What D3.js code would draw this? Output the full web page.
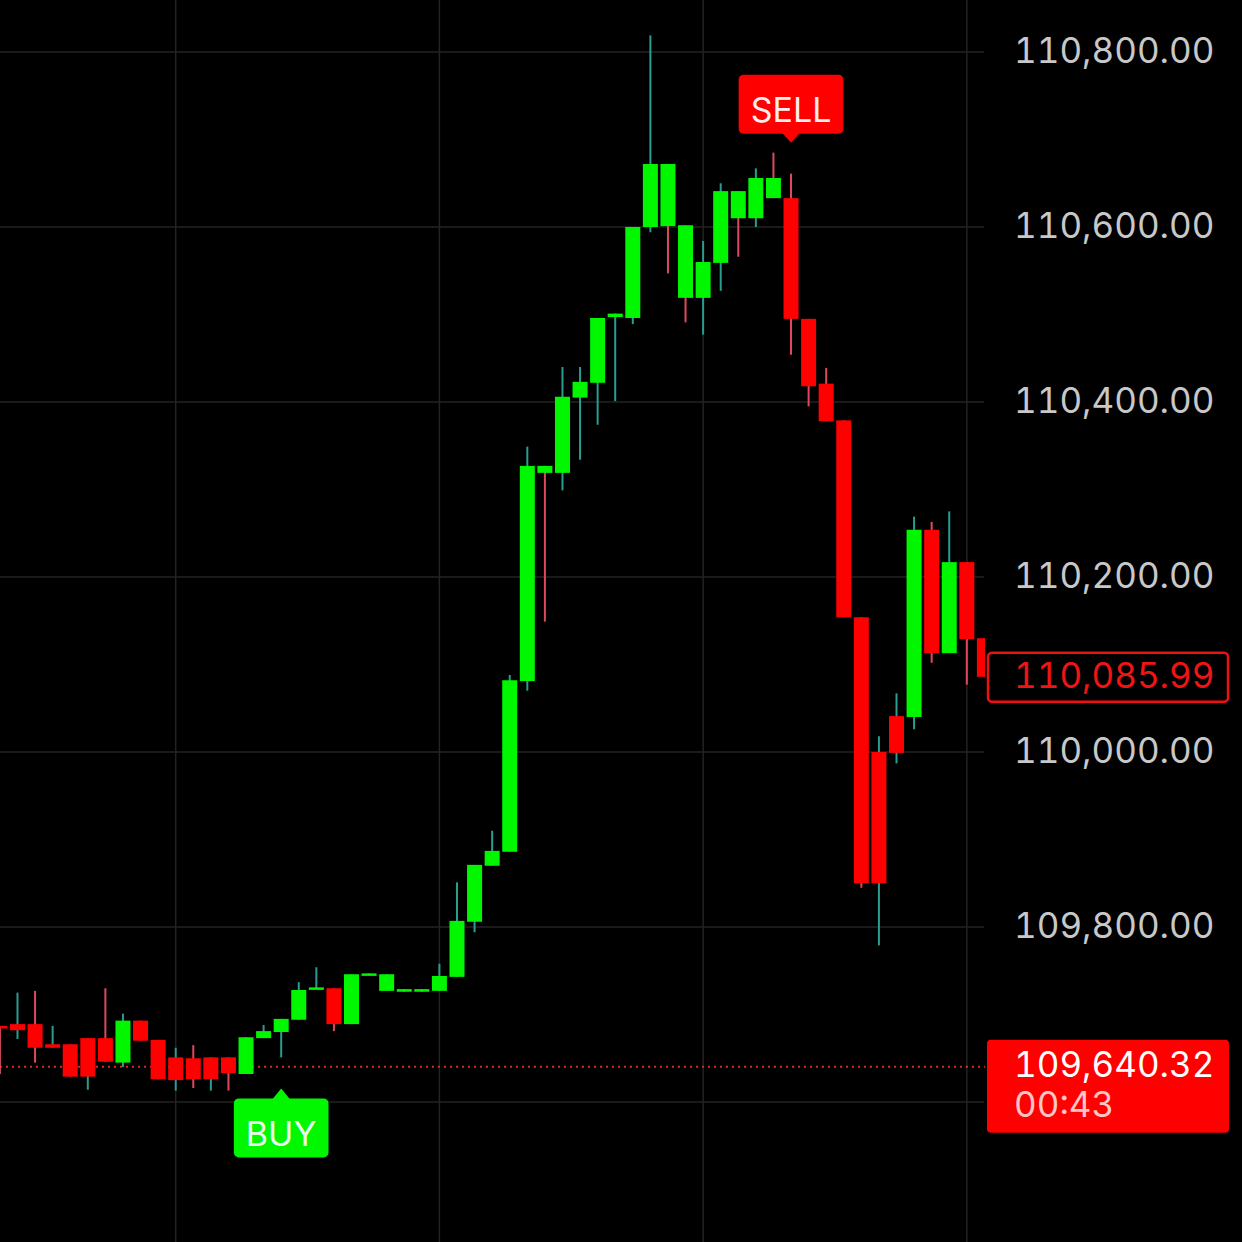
<!DOCTYPE html>
<meta charset="utf-8">
<style>
body { margin: 0; background: #000; }
svg { display: block; background: #000; }
.axis text { font-family: Inter, "Open Sans", sans-serif; font-size: 35px; fill: #c8c8c8; font-variant-numeric: tabular-nums; }
.grid line { stroke: #232323; stroke-width: 1.5px; }
.tag text { font-family: Inter, "Open Sans", sans-serif; font-variant-numeric: tabular-nums; }
</style>
<body>
<div id="chart"></div>
<script src="https://cdn.jsdelivr.net/npm/d3@7"></script>
<script>
// OHLC per candle
var open = [109687, 109689, 109689, 109666, 109666, 109673, 109673, 109645, 109693, 109671,
  109651, 109650, 109651, 109651, 109632, 109673, 109680, 109694, 109729, 109730,
  109689, 109745, 109727, 109726, 109726, 109727, 109743, 109806, 109870, 109886,
  110081, 110319, 110319, 110405, 110422, 110497, 110496, 110600, 110601, 110519,
  110519, 110559, 110610, 110610, 110633, 110633, 110495, 110421, 110379, 110154,
  110000, 110041, 110040, 110254, 110113, 110217, 110130];
var high = [109687, 109725, 109727, 109687, 109666, 109673, 109730, 109701, 109693, 109671,
  109662, 109665, 109651, 109651, 109674, 109688, 109695, 109737, 109754, 109730,
  109746, 109747, 109746, 109729, 109729, 109758, 109851, 109871, 109910, 110088,
  110349, 110327, 110440, 110440, 110496, 110501, 110600, 110819, 110672, 110602,
  110584, 110650, 110641, 110667, 110685, 110661, 110495, 110439, 110379, 110154,
  110018, 110067, 110269, 110263, 110275, 110217, 110130];
var low = [109632, 109672, 109645, 109662, 109629, 109614, 109646, 109640, 109670, 109626,
  109613, 109616, 109613, 109613, 109632, 109673, 109651, 109694, 109729, 109681,
  109689, 109745, 109727, 109726, 109726, 109727, 109743, 109794, 109870, 109886,
  110070, 110149, 110299, 110334, 110374, 110401, 110489, 110594, 110547, 110491,
  110477, 110527, 110566, 110600, 110633, 110454, 110395, 110378, 110154, 109845,
  109779, 109987, 110026, 110102, 110113, 110077, 110086];
var close = [109684, 109682, 109662, 109662, 109629, 109629, 109646, 109693, 109670, 109626,
  109625, 109626, 109626, 109633, 109674, 109681, 109695, 109728, 109731, 109689,
  109746, 109747, 109746, 109729, 109729, 109744, 109807, 109871, 109887, 110082,
  110327, 110327, 110406, 110423, 110496, 110501, 110600, 110672, 110672, 110602,
  110560, 110641, 110641, 110656, 110656, 110495, 110418, 110378, 110154, 109850,
  109850, 109999, 110254, 110113, 110217, 110129, 110085.99];
// last tick direction (wick colour): 1 up, -1 down
var tick = [-1, 1, -1, 1, -1, 1, -1, 1, -1, -1,
  1, -1, 1, -1, 1, 1, 1, 1, 1, -1,
  1, 1, 1, 1, 1, 1, 1, 1, 1, 1,
  1, -1, 1, 1, 1, 1, 1, 1, -1, -1,
  1, 1, -1, 1, -1, -1, -1, -1, -1, -1,
  1, 1, 1, -1, 1, -1, -1];

var gridPrices = [109600, 109800, 110000, 110200, 110400, 110600, 110800];
var priceLabels = [109800, 110000, 110200, 110400, 110600, 110800];
var timeGrid = [10, 25, 40, 55];
var signalIndex = [16, 45];
var signalType = ["BUY", "SELL"];
var lastPrice = 110085.99;
var markPrice = 109640.32;
var countdown = "00:43";

var W = 1242, H = 1242, plotRight = 985;
var upBody = "#00f700", downBody = "#ff0000", upWick = "#2a9d8f", downWick = "#de4a5c";

var candles = open.map(function(o, i) {
  return {i: i, o: o, h: high[i], l: low[i], c: close[i], t: tick[i]};
});

var x = d3.scaleLinear().domain([0, candles.length - 1]).range([-0.1, 984.4]);
var y = d3.scaleLinear().domain([109600, 110800]).range([1102, 52]);
var bodyW = 15;
var fmt = d3.format(",.2f");

var svg = d3.select("#chart").append("svg")
  .attr("width", W)
  .attr("height", H);

svg.append("defs").append("clipPath").attr("id", "plot")
  .append("rect").attr("x", 0).attr("y", 0).attr("width", plotRight).attr("height", H);

// grid
var grid = svg.append("g").attr("class", "grid");
grid.selectAll(".h").data(gridPrices).enter().append("line")
  .attr("x1", 0).attr("x2", plotRight - 1)
  .attr("y1", function(d) { return y(d); })
  .attr("y2", function(d) { return y(d); });
grid.selectAll(".v").data(timeGrid).enter().append("line")
  .attr("x1", function(d) { return x(d); })
  .attr("x2", function(d) { return x(d); })
  .attr("y1", 0).attr("y2", H);

// price axis on the right
var axis = svg.append("g")
  .attr("class", "axis")
  .attr("transform", "translate(1014,0)")
  .call(d3.axisRight(y).tickValues(priceLabels).tickFormat(fmt).tickSize(0).tickPadding(0));
axis.select(".domain").remove();
axis.selectAll("text").attr("dy", "0.35em").attr("y", -2);

var plot = svg.append("g").attr("clip-path", "url(#plot)");

// dotted line at the mark price
plot.append("line")
  .attr("x1", 0).attr("x2", plotRight)
  .attr("y1", y(markPrice)).attr("y2", y(markPrice))
  .attr("stroke", "#e02424")
  .attr("stroke-width", 2)
  .attr("stroke-dasharray", "2,4");

var candle = plot.selectAll(".candle").data(candles).enter().append("g")
  .attr("class", "candle");

candle.append("line")
  .attr("x1", function(d) { return x(d.i); })
  .attr("x2", function(d) { return x(d.i); })
  .attr("y1", function(d) { return y(d.h); })
  .attr("y2", function(d) { return y(d.l); })
  .attr("stroke", function(d) { return d.t > 0 ? upWick : downWick; })
  .attr("stroke-width", 2);

candle.append("rect")
  .attr("x", function(d) { return x(d.i) - bodyW / 2; })
  .attr("width", bodyW)
  .attr("y", function(d) { return y(Math.max(d.o, d.c)); })
  .attr("height", function(d) { return Math.max(2.5, Math.abs(y(d.o) - y(d.c))); })
  .attr("fill", function(d) { return d.c >= d.o ? upBody : downBody; });

// BUY / SELL markers
signalIndex.forEach(function(idx, k) {
  var d = candles[idx], isBuy = signalType[k] == "BUY";
  var col = isBuy ? upBody : downBody;
  var tip = isBuy ? y(d.l) + 31 : y(d.h) - 31;
  var g = svg.append("g").attr("class", "tag");
  var t = g.append("text")
    .attr("x", x(idx))
    .attr("text-anchor", "middle")
    .attr("font-size", 34)
    .attr("fill", isBuy ? "#eaffea" : "#ffecec")
    .text(signalType[k]);
  var tw = t.node().getComputedTextLength();
  var bw = tw + 24, bh = 59;
  var top = isBuy ? tip + 10 : tip - 9 - bh;
  g.insert("rect", "text")
    .attr("x", x(idx) - bw / 2).attr("y", top)
    .attr("width", bw).attr("height", bh)
    .attr("rx", 5)
    .attr("fill", col);
  var base = isBuy ? tip + 11 : tip - 10;
  g.insert("path", "text")
    .attr("d", "M" + (x(idx) - 9) + "," + base + "L" + x(idx) + "," + tip + "L" + (x(idx) + 9) + "," + base + "Z")
    .attr("fill", col);
  t.attr("y", top + bh / 2 + 18);
});

// last price tag (outlined)
var lp = svg.append("g").attr("class", "tag");
lp.append("rect")
  .attr("x", 988).attr("y", y(lastPrice) - 24)
  .attr("width", 240).attr("height", 49)
  .attr("rx", 4)
  .attr("fill", "#000")
  .attr("stroke", "#f01010")
  .attr("stroke-width", 2.5);
lp.append("text")
  .attr("x", 1014).attr("y", y(lastPrice) + 11)
  .attr("font-size", 35)
  .attr("fill", "#f01414")
  .text(fmt(lastPrice));

// mark price tag with countdown
var mp = svg.append("g").attr("class", "tag");
mp.append("rect")
  .attr("x", 987).attr("y", y(markPrice) - 27)
  .attr("width", 242).attr("height", 93)
  .attr("rx", 4)
  .attr("fill", "#ff0000");
mp.append("text")
  .attr("x", 1014).attr("y", y(markPrice) + 10)
  .attr("font-size", 35)
  .attr("fill", "#ffffff")
  .text(fmt(markPrice));
mp.append("text")
  .attr("x", 1014).attr("y", y(markPrice) + 50)
  .attr("font-size", 35)
  .attr("fill", "#ffc4c4")
  .text(countdown);
</script>
